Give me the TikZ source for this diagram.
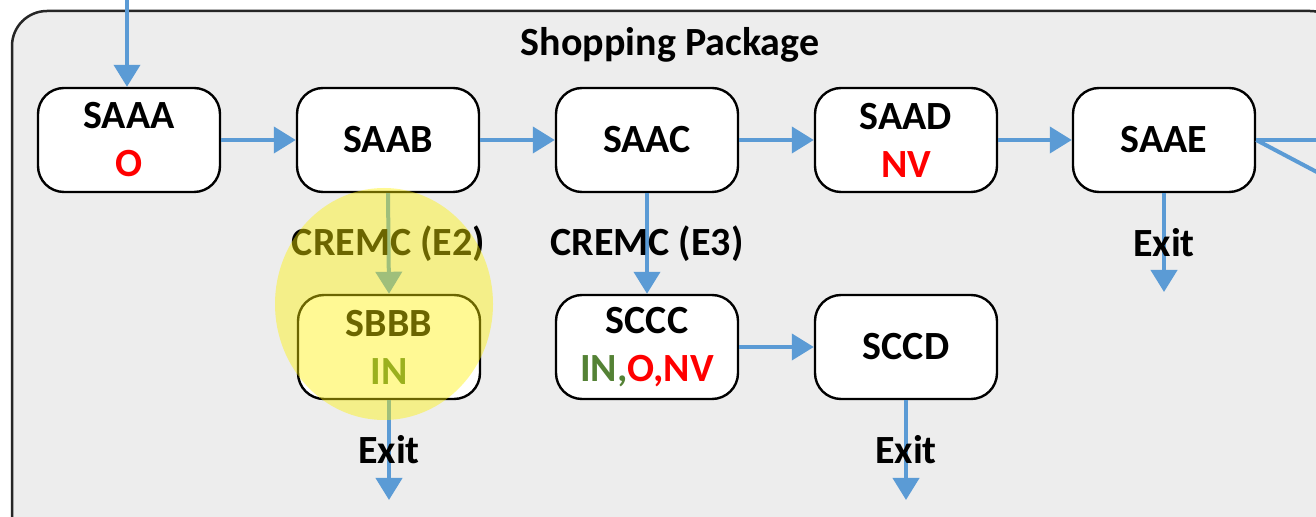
\documentclass[tikz,border=0pt]{standalone}
\usepackage{fontspec}
\setmainfont{Carlito}
\usetikzlibrary{arrows.meta}
\definecolor{flowblue}{HTML}{5B9BD5}
\definecolor{panelgray}{HTML}{EDEDED}
\definecolor{okgreen}{HTML}{548235}
\definecolor{warnred}{HTML}{FF0000}
\begin{document}
\begin{tikzpicture}[x=0.5pt,y=-0.5pt,
  every node/.style={font=\bfseries\fontsize{20}{24}\selectfont, inner sep=0pt},
  state/.style={draw=black, fill=white, line width=1.2pt, rounded corners=13pt,
    minimum width=91pt, minimum height=52pt, align=center},
  flow/.style={draw=flowblue, line width=2pt, -{Triangle[length=11pt,width=13pt]}},
  plain/.style={draw=flowblue, line width=2pt},
  lbl/.style={text=black}]
\useasboundingbox (0,0) rectangle (1316,517);
\clip (0,0) rectangle (1316,517);
\fill[white] (0,0) rectangle (1316,517);

% package container
\draw[fill=panelgray, draw=black!85, line width=1.25pt, rounded corners=17.5pt]
  (12,11) rectangle (1345,580);
\node (title) at (670,45) {Shopping Package};

% states
\node[state] (saaa) at (129,140) {SAAA\\\textcolor{warnred}{O}};
\node[state] (saab) at (388,140) {SAAB};
\node[state] (saac) at (647,140) {SAAC};
\node[state] (saad) at (906,140) {SAAD\\\textcolor{warnred}{NV}};
\node[state] (saae) at (1164,140) {SAAE};
\node[state] (sbbb) at (389,347) {SBBB\\\textcolor{okgreen}{IN}};
\node[state] (sccc) at (647,347) {SCCC\\\textcolor{okgreen}{IN,}\textcolor{warnred}{O,NV}};
\node[state] (sccd) at (906,347) {SCCD};

% free ends
\coordinate (entry) at (127,0);
\coordinate (offA) at (1330,140);
\coordinate (offB) at (1330,179);
\coordinate (exitE) at (1164,292);
\coordinate (exitB) at (389,500);
\coordinate (exitD) at (906,500);

% transitions
\draw[flow] (entry) -- (entry |- saaa.north);
\draw[flow] (saaa) -- (saab);
\draw[flow] (saab) -- (saac);
\draw[flow] (saac) -- (saad);
\draw[flow] (saad) -- (saae);
\draw[plain] (saae.east) -- (offA);
\draw[plain] (saae.east) -- (offB);
\draw[flow] (saab.south) -- node[lbl] (e2) {CREMC (E2)} (sbbb.north);
\draw[flow] (saac.south) -- node[lbl] (e3) {CREMC (E3)} (sccc.north);
\draw[flow] (sccc) -- (sccd);
\draw[flow] (saae.south) -- node[lbl] (xe) {Exit} (exitE);
\draw[flow] (sbbb.south) -- node[lbl] (xb) {Exit} (exitB);
\draw[flow] (sccd.south) -- node[lbl] (xd) {Exit} (exitD);

% highlight
\fill[yellow, fill opacity=0.42] (384,304) ellipse [x radius=54.5pt, y radius=58pt];
\end{tikzpicture}
\end{document}
